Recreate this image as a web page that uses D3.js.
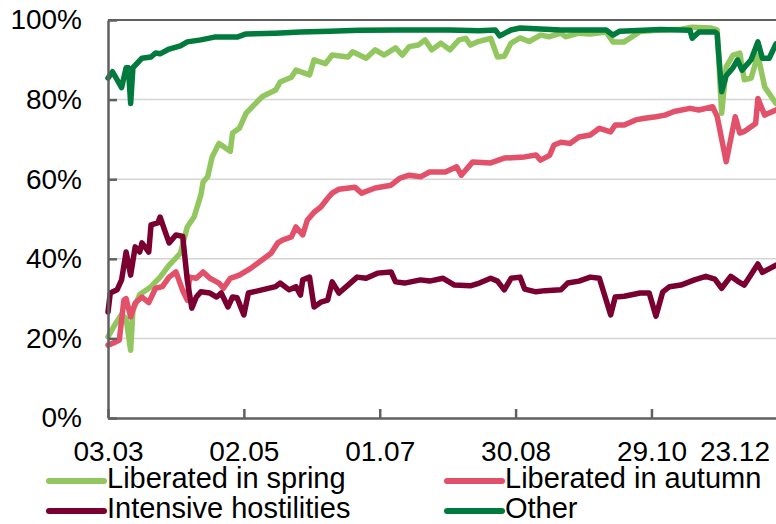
<!DOCTYPE html>
<html>
<head>
<meta charset="utf-8">
<script src="https://cdn.jsdelivr.net/npm/d3@7"></script>
<style>
  body { margin: 0; background: #fff; }
  text { font-family: "Liberation Sans", Arial, sans-serif; fill: #000; }
</style>
</head>
<body>
<script>
// values, in % ; dates are dd.mm
var spring = [["03.03",20.4],["06.03",23.4],["09.03",26],["11.03",25],["13.03",17],["14.03",27],["17.03",31],
  ["22.03",33],["26.03",35.4],["30.03",38.4],["04.04",41.4],["07.04",48],["10.04",50.5],["13.04",56],["14.04",59.3],
  ["16.04",60.6],["18.04",65.6],["21.04",69],["26.04",67],["27.04",71.6],["30.04",72.8],["03.05",76.6],["10.05",80.7],
  ["16.05",82.4],["18.05",84.4],["23.05",85.6],["25.05",87.4],["31.05",86.2],["02.06",90],["07.06",89],["10.06",91.2],
  ["17.06",90.7],["19.06",92],["25.06",90.4],["29.06",92.5],["03.07",91.2],["08.07",93],["11.07",91.2],["14.07",93.3],
  ["18.07",93.7],["21.07",95],["24.07",92.5],["28.07",94.2],["01.08",92.5],["05.08",95],["08.08",95.4],["10.08",93.7],
  ["13.08",94.5],["19.08",95.4],["22.08",90.7],["25.08",90.9],["28.08",94.2],["01.09",95.5],["05.09",94.6],["10.09",96.2],
  ["14.09",95.8],["19.09",96.7],["21.09",95.8],["27.09",96.7],["02.10",96.5],["09.10",97],["12.10",94.5],["17.10",94.5],
  ["24.10",97.1],["02.11",97.5],["11.11",97.7],["16.11",98.2],["24.11",98],["27.11",97.5],["29.11",76.6],["01.12",88.2],
  ["04.12",91.2],["07.12",91.7],["09.12",85],["12.12",85.4],["15.12",91.2],["18.12",83.2],["23.12",79]];

var autumn = [["03.03",18.3],["06.03",19],["08.03",19.6],["10.03",29.6],["11.03",30],["13.03",25.4],["15.03",28.9],
  ["18.03",30.4],["21.03",29],["24.03",32.6],["27.03",33],["30.03",35.4],["02.04",36.7],["05.04",32],["07.04",29.6],
  ["08.04",35.4],["11.04",35.1],["14.04",36.7],["17.04",35.1],["21.04",33.9],["23.04",32.6],["26.04",35.1],["30.04",35.9],
  ["05.05",37.6],["10.05",39.7],["14.05",41.4],["17.05",44],["19.05",44.7],["23.05",45.5],["25.05",48],["28.05",46],
  ["30.05",49.7],["02.06",51.7],["05.06",53],["08.06",55.2],["10.06",56.5],["13.06",57.5],["20.06",58],["23.06",56.5],
  ["29.06",57.8],["06.07",58.5],["10.07",60.3],["14.07",61],["19.07",60.6],["23.07",61.8],["30.07",61.8],["04.08",63.1],
  ["06.08",61],["11.08",64.3],["19.08",64.1],["25.08",65.3],["03.09",65.6],["08.09",66.1],["10.09",64.8],["14.09",66],
  ["16.09",68.6],["19.09",69.3],["23.09",69],["27.09",70.6],["02.10",71.1],["06.10",72.8],["11.10",71.9],["13.10",73.6],
  ["17.10",73.6],["22.10",74.9],["26.10",75.3],["31.10",75.7],["04.11",76.1],["08.11",77],["15.11",77.8],["19.11",77.4],
  ["25.11",78.2],["27.11",75.8],["01.12",64.4],["05.12",75.7],["07.12",71.6],["09.12",72],["14.12",74],["15.12",80.3],
  ["18.12",76.1],["23.12",77.4]];

var hostilities = [["03.03",26.6],["04.03",31.4],["07.03",32.2],["09.03",34.7],["11.03",41.7],["13.03",35.9],["15.03",43],
  ["17.03",41.7],["18.03",44],["21.03",41.7],["22.03",48.5],["25.03",49],["26.03",50.5],["28.03",47.2],["30.03",44],
  ["02.04",46],["05.04",45.6],["07.04",34.7],["09.04",27.6],["11.04",30.4],["13.04",31.7],["17.04",31.4],["20.04",30.4],
  ["22.04",31.4],["25.04",27.9],["27.04",30.4],["29.04",30.2],["02.05",25.9],["04.05",31.4],["10.05",32.2],["16.05",33],
  ["18.05",33.9],["22.05",32.2],["25.05",33],["27.05",30.9],["28.05",34.7],["31.05",35.4],["02.06",27.9],["05.06",29.1],
  ["08.06",29.6],["10.06",34.2],["13.06",31.4],["17.06",33.4],["21.06",35.4],["25.06",35.1],["30.06",36.4],["06.07",36.7],
  ["08.07",34.2],["12.07",33.9],["19.07",34.7],["23.07",34.4],["29.07",35.1],["03.08",33.4],["10.08",33.2],["14.08",33.9],
  ["19.08",35.1],["22.08",34.4],["25.08",32.2],["28.08",35.1],["01.09",35.4],["03.09",32.4],["08.09",31.7],["12.09",32],
  ["19.09",32.2],["22.09",33.9],["27.09",34.4],["02.10",35.4],["06.10",35.1],["11.10",25.9],["13.10",30.4],["17.10",30.6],
  ["24.10",31.4],["28.10",31.4],["31.10",25.6],["03.11",31.7],["06.11",33],["11.11",33.4],["17.11",34.7],["22.11",35.6],
  ["26.11",34.9],["29.11",32.6],["03.12",35.6],["06.12",34.4],["09.12",33.4],["15.12",38.7],["17.12",36.6],["23.12",38.4]];

var other = [["03.03",85.4],["05.03",87],["09.03",83],["11.03",88],["12.03",88],["13.03",79],["14.03",88],["18.03",90.4],
  ["22.03",90.7],["24.03",91.7],["26.03",91.5],["30.03",92.7],["04.04",93.5],["07.04",94.5],["13.04",95],["19.04",95.7],
  ["29.04",95.7],["03.05",96.5],["16.05",96.7],["27.05",97],["09.06",97.2],["22.06",97.4],["10.07",97.5],["01.08",97.5],
  ["14.08",97.3],["21.08",97.5],["23.08",96],["28.08",97.5],["01.09",98],["19.09",97.5],["09.10",97.5],["12.10",96.2],
  ["15.10",97.2],["02.11",97.6],["15.11",97.4],["16.11",95.4],["19.11",97],["26.11",97],["27.11",96.5],["29.11",82],
  ["01.12",86],["04.12",88],["06.12",90],["08.12",87.4],["12.12",90],["15.12",94.5],["17.12",90.4],["20.12",90.4],
  ["23.12",94]];

var seriesNames = ["Liberated in spring", "Liberated in autumn", "Intensive hostilities", "Other"];
var seriesColors = ["#92c760", "#e2506a", "#7a0032", "#007a3d"];
var tickDates = ["03.03", "02.05", "01.07", "30.08", "29.10"];
var lastDate = "23.12";
var yTicks = [0, 20, 40, 60, 80, 100];

var width = 776,
    height = 524,
    marginLeft = 108,
    marginTop = 20,
    axisY = 418,
    parse = d3.timeParse("%d.%m");

var x = d3.scaleTime().range([marginLeft, width])
        .domain([parse("03.03"), parse(lastDate)]),
    y = d3.scaleLinear().range([axisY, marginTop])
        .domain([0, 100]);

var figure = d3.select("body")
    .append("svg")
        .attr("width", width)
        .attr("height", height);

// gridlines
figure.append("g")
    .selectAll("line")
    .data(yTicks.slice(1, -1))
    .enter()
    .append("line")
    .attr("x1", marginLeft)
    .attr("x2", width)
    .attr("y1", function(d) { return y(d); })
    .attr("y2", function(d) { return y(d); })
    .attr("stroke", "#d4d4d4")
    .attr("stroke-width", 1.5);

// top border
figure.append("line")
    .attr("x1", marginLeft).attr("x2", width)
    .attr("y1", y(100)).attr("y2", y(100))
    .attr("stroke", "#606060")
    .attr("stroke-width", 2);

// the lines
var line = d3.line()
    .x(function(d) { return x(parse(d[0])); })
    .y(function(d) { return y(d[1]); });

[spring, autumn, hostilities, other].forEach(function(data, i) {
    figure.append("path")
        .datum(data)
        .attr("fill", "none")
        .attr("stroke", seriesColors[i])
        .attr("stroke-width", 5.5)
        .attr("stroke-linejoin", "round")
        .attr("stroke-linecap", "round")
        .attr("d", line);
});

// axes
var xAxis = figure.append("g")
    .attr("transform", "translate(0," + axisY + ")")
    .call(d3.axisBottom(x)
        .tickValues(tickDates.map(parse))
        .tickFormat(d3.timeFormat("%d.%m"))
        .tickSize(-9)
        .tickSizeOuter(0)
        .tickPadding(23));

xAxis.append("text")
    .attr("x", width - 6)
    .attr("y", 23)
    .attr("dy", "0.71em")
    .attr("text-anchor", "end")
    .text(lastDate);

var yAxis = figure.append("g")
    .attr("transform", "translate(" + marginLeft + ",0)")
    .call(d3.axisLeft(y)
        .tickValues(yTicks)
        .tickFormat(function(d) { return d + "%"; })
        .tickSize(-9)
        .tickSizeOuter(0)
        .tickPadding(26));

figure.selectAll(".domain, .tick line")
    .attr("stroke", "#606060")
    .attr("stroke-width", 2.5);

figure.selectAll("text")
    .style("font-size", "28px")
    .attr("fill", "#000");

// legend
var legend = figure.append("g")
    .selectAll("g")
    .data(seriesNames)
    .enter()
    .append("g")
    .attr("transform", function(d, i) {
        return "translate(" + (i % 2 ? 447 : 49) + "," + (i < 2 ? 481 : 511) + ")"; });

legend.append("line")
    .attr("x1", 0).attr("x2", 55)
    .attr("stroke", function(d, i) { return seriesColors[i]; })
    .attr("stroke-width", 6)
    .attr("stroke-linecap", "round");

legend.append("text")
    .attr("x", 58)
    .attr("y", 7)
    .style("font-size", "29px")
    .text(function(d) { return d; });
</script>
</body>
</html>
